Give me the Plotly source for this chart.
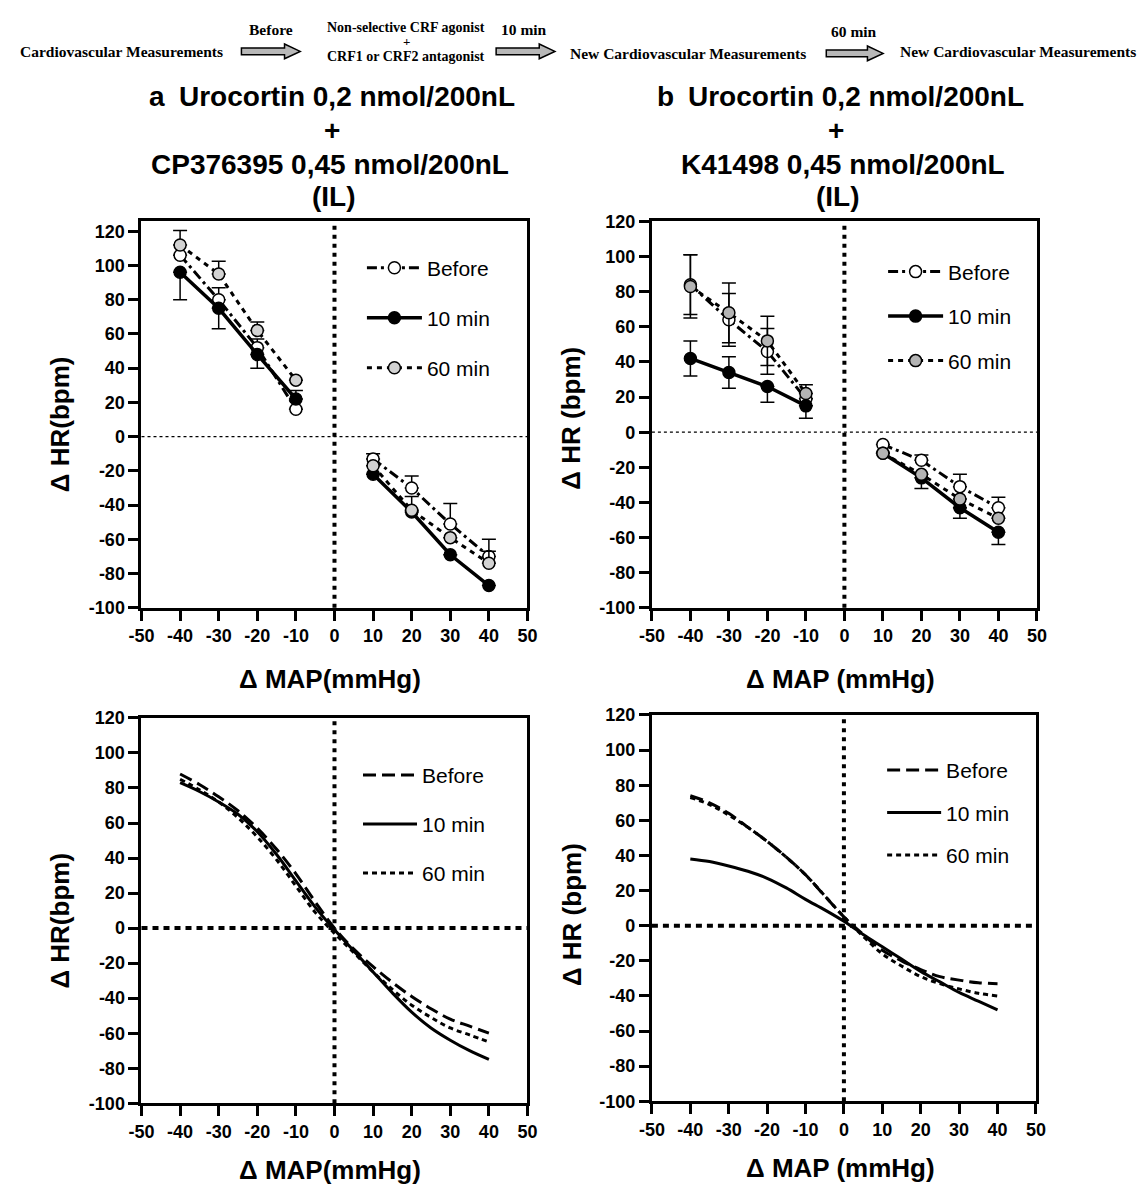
import plotly.graph_objects as go

# ---------------- data ----------------
X_TICKS = [-50, -40, -30, -20, -10, 0, 10, 20, 30, 40, 50]
X_TICK_LABELS = ["-50", "-40", "-30", "-20", "-10", "0", "10", "20", "30", "40", "50"]
Y_TICKS = [-100, -80, -60, -40, -20, 0, 20, 40, 60, 80, 100, 120]
Y_TICK_LABELS = ["-100", "-80", "-60", "-40", "-20", "0", "20", "40", "60", "80", "100", "120"]

SERIES = ["Before", "10 min", "60 min"]

# top panels: measured points (ΔMAP)
MAP_POINTS = [-40, -30, -20, -10, 10, 20, 30, 40]

# panel a (CP376395)
A_BEFORE = [106, 80, 52, 16, -13, -30, -51, -70]
A_BEFORE_UP = [0, 7, 5, 0, 3, 7, 12, 10]
A_BEFORE_DN = [0, 0, 0, 0, 0, 0, 0, 0]
A_10MIN = [96, 75, 48, 22, -22, -44, -69, -87]
A_10MIN_UP = [0, 0, 0, 5, 0, 0, 0, 0]
A_10MIN_DN = [16, 12, 8, 0, 0, 0, 0, 0]
A_60MIN = [112, 95, 62, 33, -17, -43, -59, -74]
A_60MIN_UP = [8.5, 7.5, 5, 0, 0, 8, 0, 7]
A_60MIN_DN = [0, 0, 0, 0, 0, 0, 0, 0]

# panel b (K41498)
B_BEFORE = [84, 64, 46, 19, -7, -16, -31, -43]
B_BEFORE_UP = [17, 15, 13, 0, 0, 3, 7, 6]
B_BEFORE_DN = [17, 15, 13, 0, 0, 0, 0, 0]
B_10MIN = [42, 34, 26, 15, -12, -26, -43, -57]
B_10MIN_UP = [10, 9, 0, 0, 0, 0, 0, 0]
B_10MIN_DN = [10, 9, 9, 7, 0, 6, 6, 7]
B_60MIN = [83, 68, 52, 22, -12, -24, -38, -49]
B_60MIN_UP = [18, 17, 14, 5, 0, 0, 0, 0]
B_60MIN_DN = [18, 17, 14, 0, 0, 0, 0, 0]

# bottom panels: fitted curves every 5 mmHg
CURVE_MAP = [-40, -35, -30, -25, -20, -15, -10, -5, 0, 5, 10, 15, 20, 25, 30, 35, 40]
A_CURVE_BEFORE = [88, 82, 75, 67, 57, 45, 31, 15, 0, -12, -22, -31, -39, -46, -52, -56, -60]
A_CURVE_10MIN = [83, 78, 72, 65, 55, 42, 27, 12, -1, -13, -25, -37, -48, -57, -64, -70, -75]
A_CURVE_60MIN = [85, 79, 72, 63, 52, 39, 24, 9, -3, -14, -25, -35, -44, -51, -57, -61, -65]
B_CURVE_BEFORE = [74, 70, 64, 56, 48, 39, 29, 17, 5, -5, -14, -20, -25, -29, -31, -32.5, -33]
B_CURVE_10MIN = [38, 36.5, 34, 31, 27, 21.5, 15, 9, 2.5, -5, -12, -19, -26, -32, -38, -43, -48]
B_CURVE_60MIN = [73, 69, 63, 56, 48, 39, 29, 17, 5, -6, -16, -23, -29, -33, -36, -38.5, -40]

# ---------------- geometry helpers ----------------
PAGE_W, PAGE_H = 1147, 1194
BODY_MARGIN = 8  # default page margin around the figure
W, H = PAGE_W - 2 * BODY_MARGIN, PAGE_H - 2 * BODY_MARGIN


def px(x):
    return (x - BODY_MARGIN) / W


def py(y):
    return 1 - (y - BODY_MARGIN) / H


def with_gap(vals, fill=None):
    return vals[:4] + [fill] + vals[4:]


FONT = "Liberation Sans, Arial, sans-serif"
SERIF = "Liberation Serif, Times New Roman, serif"

fig = go.Figure()

# panel definitions: (axis suffix, x px range, y px range, y range, legend name)
PANELS = {
    "a_top": ("", (131, 525), (215, 608), [-100, 125.7], "legend"),
    "b_top": ("2", (652, 1045), (215, 608), [-100, 120], "legend2"),
    "a_bot": ("3", (131, 525), (720, 1112), [-100, 120], "legend3"),
    "b_bot": ("4", (652, 1044), (717, 1110), [-100, 120], "legend4"),
}

STYLE = {
    "Before": dict(dash="10px,4px,3px,4px", cdash="13px,6px"),
    "10 min": dict(dash="solid", cdash="solid"),
    "60 min": dict(dash="5px,5px", cdash="5px,4px"),
}
FILLS = {
    "a_top": {"Before": "white", "10 min": "black", "60 min": "#d2d2d2"},
    "b_top": {"Before": "white", "10 min": "black", "60 min": "#b4b4b4"},
}

TOP_DATA = {
    "a_top": [(A_BEFORE, A_BEFORE_UP, A_BEFORE_DN), (A_10MIN, A_10MIN_UP, A_10MIN_DN),
              (A_60MIN, A_60MIN_UP, A_60MIN_DN)],
    "b_top": [(B_BEFORE, B_BEFORE_UP, B_BEFORE_DN), (B_10MIN, B_10MIN_UP, B_10MIN_DN),
              (B_60MIN, B_60MIN_UP, B_60MIN_DN)],
}
BOT_DATA = {
    "a_bot": [A_CURVE_BEFORE, A_CURVE_10MIN, A_CURVE_60MIN],
    "b_bot": [B_CURVE_BEFORE, B_CURVE_10MIN, B_CURVE_60MIN],
}

for key, series in TOP_DATA.items():
    suf, _, _, _, leg = PANELS[key]
    for name, (vals, up, dn) in zip(SERIES, series):
        st = STYLE[name]
        fig.add_trace(go.Scatter(
            x=with_gap(MAP_POINTS), y=with_gap(vals),
            xaxis="x" + suf, yaxis="y" + suf,
            mode="lines+markers", name=name, legend=leg, legendgroup=key + name,
            connectgaps=False,
            line=dict(color="black", width=3 if name != "10 min" else 3.5, dash=st["dash"]),
            marker=dict(symbol="circle", size=12, color=FILLS[key][name],
                        line=dict(color="black", width=1.5)),
            error_y=dict(type="data", symmetric=False, array=with_gap(up, 0),
                         arrayminus=with_gap(dn, 0), color="black", thickness=1.5, width=7),
        ))

for key, series in BOT_DATA.items():
    suf, _, _, _, leg = PANELS[key]
    for name, vals in zip(SERIES, series):
        st = STYLE[name]
        fig.add_trace(go.Scatter(
            x=CURVE_MAP, y=vals, xaxis="x" + suf, yaxis="y" + suf,
            mode="lines", name=name, legend=leg, legendgroup=key + name,
            line=dict(color="black", width=3, dash=st["cdash"], shape="spline", smoothing=1.0),
        ))

axis_common = dict(
    showline=True, linewidth=3, linecolor="black", mirror=True,
    ticks="outside", ticklen=10, tickwidth=3, tickcolor="black",
    tickfont=dict(family=FONT, size=18, color="black", weight="bold"),
    showgrid=False, zeroline=False, fixedrange=True,
)

layout = dict(
    width=W, height=H, margin=dict(l=0, r=0, t=0, b=0),
    paper_bgcolor="white", plot_bgcolor="white", showlegend=True,
    font=dict(family=FONT, color="black"),
)

# legend: (left px, top px, itemwidth, group gap)
legend_pos = {
    "legend": (356, 241.5, 55, 19.7),
    "legend2": (888, 245.5, 55, 14.2),
    "legend3": (352, 757.5, 54, 18.7),
    "legend4": (887, 752.5, 54, 12.2),
}
for leg, (lx, ly, iw, gap) in legend_pos.items():
    layout[leg] = dict(
        x=px(lx), y=py(ly), xanchor="left", yanchor="top",
        bgcolor="rgba(0,0,0,0)", borderwidth=0,
        font=dict(family=FONT, size=21, color="black"),
        tracegroupgap=gap, itemwidth=iw,
    )

shapes = []
for key, (suf, (x0, x1), (y0, y1), yr, leg) in PANELS.items():
    xname = "xaxis" + suf
    yname = "yaxis" + suf
    layout[xname] = dict(axis_common, domain=[px(x0), px(x1)], anchor="y" + suf,
                         range=[-50, 50], tickvals=X_TICKS, ticktext=X_TICK_LABELS)
    layout[yname] = dict(axis_common, domain=[py(y1), py(y0)], anchor="x" + suf,
                         range=yr, tickvals=Y_TICKS, ticktext=Y_TICK_LABELS)
    xr = "x" + suf
    yrf = "y" + suf
    top = key.endswith("top")
    # vertical reference line at ΔMAP = 0
    shapes.append(dict(type="line", xref=xr, yref=yrf + " domain", x0=0, x1=0, y0=0, y1=1,
                       line=dict(color="black", width=4, dash="4px,5px"), layer="below"))
    # horizontal reference line at ΔHR = 0
    shapes.append(dict(type="line", xref=xr + " domain", yref=yrf, x0=0, x1=1, y0=0, y1=0,
                       line=dict(color="black", width=1.2 if top else 4,
                                 dash="3px,3px" if top else "6px,5px"), layer="below"))


# header block arrows
def block_arrow(xa, xb, yc):
    head = 16
    sh, hh = 3.5, 7.5
    pts = [(xa, yc - sh), (xb - head, yc - sh), (xb - head, yc - hh), (xb, yc),
           (xb - head, yc + hh), (xb - head, yc + sh), (xa, yc + sh)]
    path = "M " + " L ".join(f"{px(a):.5f},{py(b):.5f}" for a, b in pts) + " Z"
    return dict(type="path", xref="paper", yref="paper", path=path,
                fillcolor="#b8b8b8", line=dict(color="black", width=1.5))


shapes += [block_arrow(233, 293, 42), block_arrow(493, 553, 42), block_arrow(830, 888, 44)]
layout["shapes"] = shapes

ann = []


def txt(x, y, s, size, family=FONT, bold=True, angle=0, xanchor="center"):
    ann.append(dict(x=px(x), y=py(y), xref="paper", yref="paper", text=s, showarrow=False,
                    xanchor=xanchor, yanchor="middle", textangle=angle,
                    font=dict(family=family, size=size, color="black",
                              weight="bold" if bold else "normal")))


# header
HS = 15.5
txt(111, 42, "Cardiovascular Measurements", HS, SERIF)
txt(263, 20, "Before", HS, SERIF)
txt(401, 18, "Non-selective CRF agonist", 14, SERIF)
txt(401, 32, "+", 13, SERIF)
txt(401, 47, "CRF1 or CRF2 antagonist", 14, SERIF)
txt(521, 20, "10 min", HS, SERIF)
txt(689, 44, "New Cardiovascular Measurements", HS, SERIF)
txt(858, 22, "60 min", HS, SERIF)
txt(1026, 42, "New Cardiovascular Measurements", HS, SERIF)

# panel titles
TS = 28
txt(137, 88, "a", TS, xanchor="left")
txt(341, 88, "Urocortin 0,2 nmol/200nL", TS)
txt(325, 122, "+", TS)
txt(323, 157, "CP376395 0,45 nmol/200nL", TS)
txt(327, 190, "(IL)", TS)
txt(655, 88, "b", TS, xanchor="left")
txt(860, 88, "Urocortin 0,2 nmol/200nL", TS)
txt(840, 122, "+", TS)
txt(847, 157, "K41498 0,45 nmol/200nL", TS)
txt(842, 190, "(IL)", TS)

# axis titles
AS = 26
txt(323, 680, "Δ MAP(mmHg)", AS)
txt(845, 680, "Δ MAP (mmHg)", AS)
txt(323, 1180, "Δ MAP(mmHg)", AS)
txt(845, 1178, "Δ MAP (mmHg)", AS)
txt(48, 421, "Δ HR(bpm)", AS, angle=-90)
txt(570, 415, "Δ HR (bpm)", AS, angle=-90)
txt(48, 926, "Δ HR(bpm)", AS, angle=-90)
txt(570, 920, "Δ HR (bpm)", AS, angle=-90)

layout["annotations"] = ann
fig.update_layout(**layout)

fig.write_html("out.html", config={"displayModeBar": False})
